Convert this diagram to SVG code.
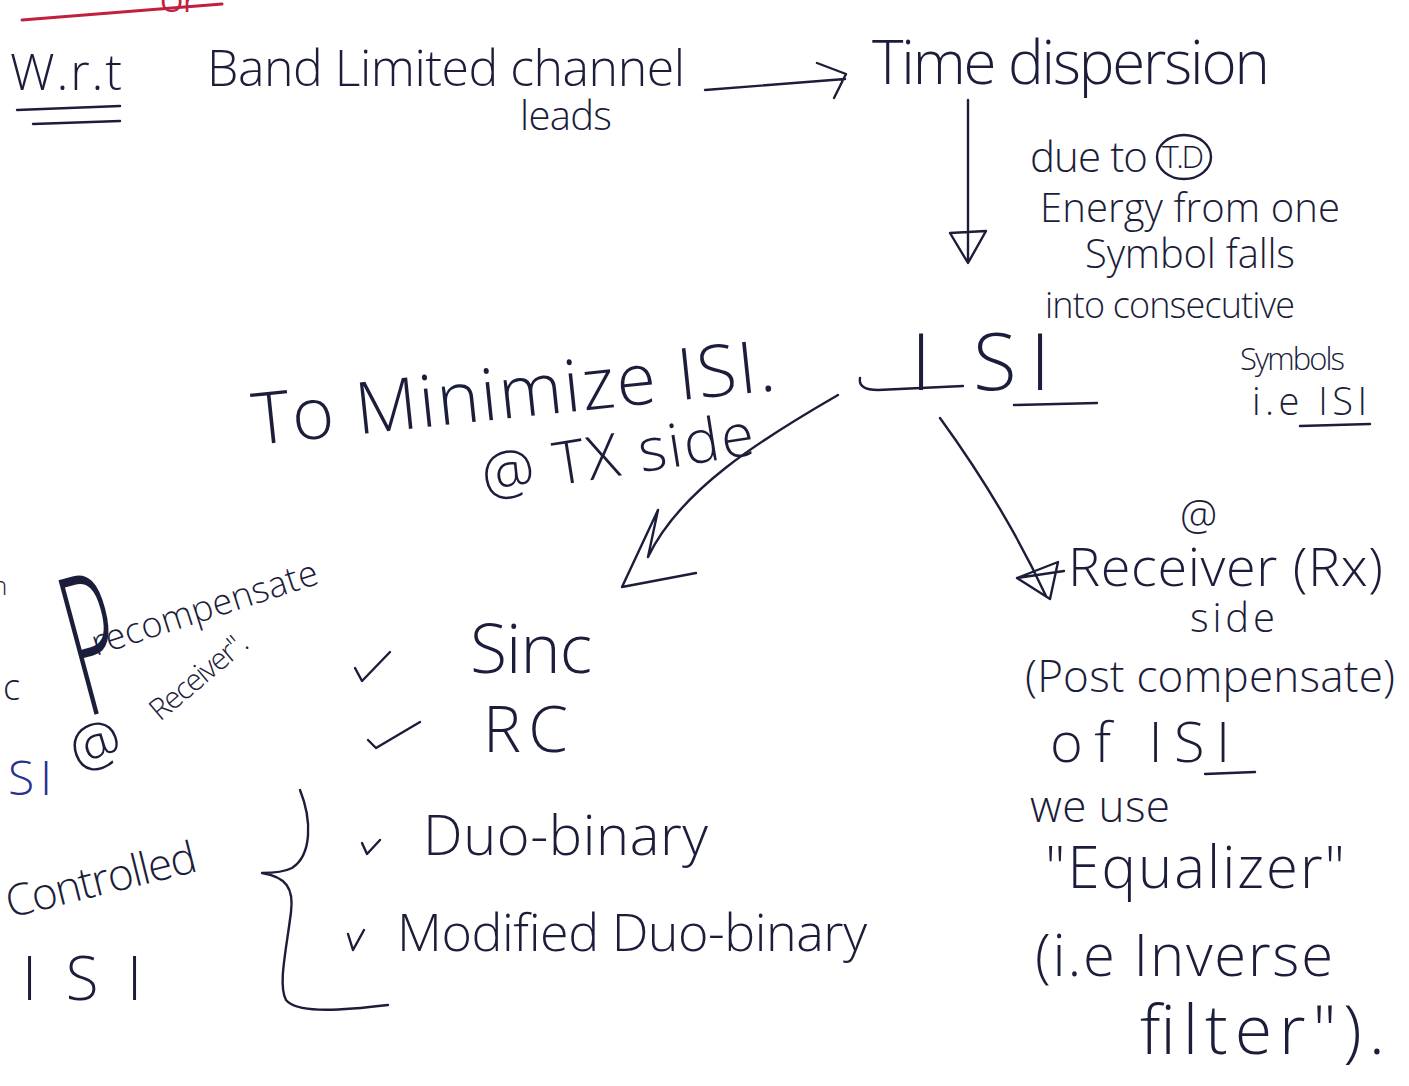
<svg xmlns="http://www.w3.org/2000/svg" width="1409" height="1086" viewBox="0 0 1409 1086">
  <style>
    .ink { font-family: "Open Sans", "Liberation Sans", sans-serif; font-weight: 300; fill: #1b1d3a; }
    .blue { fill: #2b2f8f; }
    .red-ink { font-family: "Open Sans", "Liberation Sans", sans-serif; fill: #c0203e; }
    .pen { fill: none; stroke: #1b1d3a; stroke-width: 2.4; stroke-linecap: round; stroke-linejoin: round; }
    .red-pen { fill: none; stroke: #c0203e; stroke-width: 3; stroke-linecap: round; }
  </style>
  <rect width="1409" height="1086" fill="#ffffff"/>

  <!-- red rule at the top of the page -->
  <g id="top-rule">
    <path class="red-pen" d="M22,20 L222,4"/>
    <text class="red-ink" x="160" y="12" font-size="30">Or</text>
  </g>

  <g id="wrt">
    <text class="ink" x="10" y="90" font-size="50" textLength="112" lengthAdjust="spacing">W.r.t</text>
    <path class="pen" d="M17,110 L120,106 M33,124 L120,121"/>
  </g>

  <g id="band-limited">
    <text class="ink" x="207" y="86" font-size="50" textLength="478" lengthAdjust="spacing">Band Limited channel</text>
    <text class="ink" x="520" y="130" font-size="40" textLength="92" lengthAdjust="spacing">leads</text>
  </g>

  <g id="time-dispersion">
    <text class="ink" x="872" y="84" font-size="60" textLength="398" lengthAdjust="spacing">Time dispersion</text>
  </g>

  <g id="td-note">
    <text class="ink" x="1030" y="172" font-size="42" textLength="118" lengthAdjust="spacing">due to</text>
    <text class="ink" x="1162" y="168" font-size="32" textLength="42" lengthAdjust="spacing">T.D</text>
    <ellipse class="pen" cx="1184" cy="157" rx="27" ry="22"/>
    <text class="ink" x="1040" y="222" font-size="40" textLength="300" lengthAdjust="spacing">Energy from one</text>
    <text class="ink" x="1085" y="268" font-size="40" textLength="210" lengthAdjust="spacing">Symbol falls</text>
    <text class="ink" x="1045" y="318" font-size="36" textLength="250" lengthAdjust="spacing">into consecutive</text>
    <text class="ink" x="1240" y="370" font-size="31" textLength="105" lengthAdjust="spacing">Symbols</text>
    <text class="ink" x="1252" y="415" font-size="38" textLength="115" lengthAdjust="spacing">i.e ISI</text>
    <path class="pen" d="M1300,426 L1370,424"/>
  </g>

  <g id="isi">
    <text class="ink" x="911 973 1030" y="390" font-size="80">ISI</text>
    <path class="pen" d="M860,378 Q858,390 878,390 L963,386 M1014,405 L1097,403"/>
  </g>

  <g id="tx-side">
    <text class="ink" transform="rotate(-6 255 445)" x="255" y="445" font-size="72" textLength="525" lengthAdjust="spacing">To Minimize ISI.</text>
    <text class="ink" transform="rotate(-9 485 497)" x="485" y="497" font-size="60" textLength="275" lengthAdjust="spacing">@ TX side</text>
  </g>

  <g id="pulse-shapes">
    <path class="pen" d="M355,668 L362,681 L390,652"/>
    <text class="ink" x="470" y="673" font-size="68" textLength="122" lengthAdjust="spacing">Sinc</text>
    <path class="pen" d="M368,740 L376,748 L420,722"/>
    <text class="ink" x="483" y="752" font-size="64" textLength="85" lengthAdjust="spacing">RC</text>
    <path class="pen" d="M362,843 L367,854 L380,840"/>
    <text class="ink" x="423" y="855" font-size="56" textLength="285" lengthAdjust="spacing">Duo-binary</text>
    <path class="pen" d="M348,934 L353,950 L364,930"/>
    <text class="ink" x="397" y="951" font-size="52" textLength="470" lengthAdjust="spacing">Modified Duo-binary</text>
  </g>

  <g id="precompensate">
    <text class="ink" x="-8" y="595" font-size="26">n</text>
    <text class="ink" x="3" y="700" font-size="36">c</text>
    <text class="ink blue" x="-10" y="795" font-size="48" textLength="62" lengthAdjust="spacing">ISI</text>
    <text class="ink" transform="translate(86 717) rotate(-15) scale(0.45 1)" x="0" y="0" font-size="195">P</text>
    <text class="ink" transform="rotate(-18 96 656)" x="96" y="656" font-size="36" textLength="236" lengthAdjust="spacing">recompensate</text>
    <text class="ink" transform="rotate(-20 78 772)" x="78" y="772" font-size="58">@</text>
    <text class="ink" transform="rotate(-40 160 722)" x="160" y="722" font-size="30" textLength="118" lengthAdjust="spacing">Receiver".</text>
  </g>

  <g id="controlled-isi">
    <text class="ink" transform="rotate(-14 10 918)" x="10" y="918" font-size="44" textLength="195" lengthAdjust="spacing">Controlled</text>
    <text class="ink" x="22" y="1000" font-size="60" textLength="120" lengthAdjust="spacing">ISI</text>
    <path class="pen" d="M300,790 C312,820 312,855 292,868 C282,873 270,873 262,873 C286,877 294,888 291,912 C286,952 278,985 286,1000 C296,1012 330,1012 388,1005"/>
  </g>

  <g id="rx-side">
    <text class="ink" x="1180" y="530" font-size="42">@</text>
    <text class="ink" x="1068" y="586" font-size="54" textLength="315" lengthAdjust="spacing">Receiver (Rx)</text>
    <text class="ink" x="1190" y="632" font-size="40" textLength="85" lengthAdjust="spacing">side</text>
    <text class="ink" x="1025" y="692" font-size="44" textLength="370" lengthAdjust="spacing">(Post compensate)</text>
    <text class="ink" x="1050" y="762" font-size="56" textLength="180" lengthAdjust="spacing">of ISI</text>
    <path class="pen" d="M1205,774 L1255,772"/>
    <text class="ink" x="1030" y="822" font-size="44" textLength="140" lengthAdjust="spacing">we use</text>
    <text class="ink" x="1045" y="888" font-size="58" textLength="300" lengthAdjust="spacing">"Equalizer"</text>
    <text class="ink" x="1035" y="976" font-size="58" textLength="298" lengthAdjust="spacing">(i.e Inverse</text>
    <text class="ink" x="1140" y="1054" font-size="68" textLength="245" lengthAdjust="spacing">filter").</text>
  </g>

  <g id="connectors">
    <!-- leads to -->
    <path class="pen" d="M705,90 L845,79 M817,63 L846,74 L834,98"/>
    <!-- time dispersion down to ISI -->
    <path class="pen" d="M968,100 L968,262 M950,233 L986,231 L968,263 Z"/>
    <!-- ISI to transmitter side -->
    <path class="pen" d="M838,395 C760,440 680,490 648,557 M648,557 L658,510 L622,587 L696,573"/>
    <!-- ISI to receiver side -->
    <path class="pen" d="M940,418 C985,480 1020,540 1046,596 M1017,578 L1058,562 L1050,599 Z M1017,578 L1064,571"/>
  </g>
</svg>
